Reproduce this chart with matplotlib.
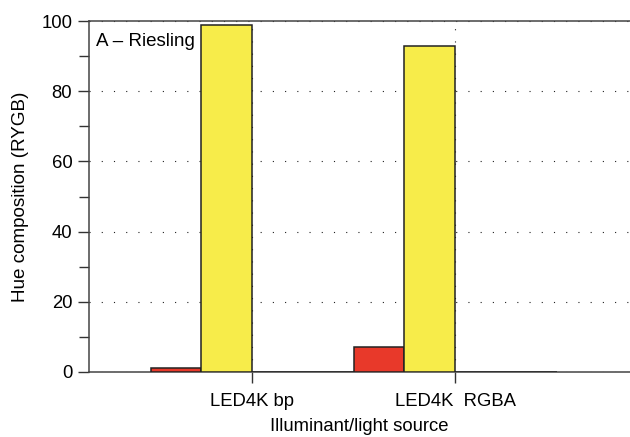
import matplotlib
matplotlib.use("Agg")
import matplotlib.pyplot as plt
import numpy as np

plt.rcParams['font.family'] = ['Liberation Sans', 'DejaVu Sans']

sources = ["LED4K bp", "LED4K  RGBA"]
hues = ["R", "Y", "G", "B"]
red = [1, 7]
yellow = [99, 93]
green = [0, 0]
blue = [0, 0]
hue_colors = ["#E8392A", "#F7EC4A", "#4CAF50", "#3A5FCD"]

fig = plt.figure(figsize=(6.3, 4.37), dpi=100)
ax = fig.add_axes([89 / 630, 1 - 372 / 437, 1 - 89 / 630, (372 - 21) / 437])

x = np.arange(len(sources))
width = 0.25
offsets = [-1.5, -0.5, 0.5, 1.5]
for vals, col, off in zip([red, yellow, green, blue], hue_colors, offsets):
    ax.bar(x + off * width, vals, width=width, color=col,
           edgecolor="#222222", linewidth=1.1, zorder=3)

ax.set_xlim(-0.803, 1.862)
ax.set_ylim(0, 100)
ax.set_yticks([0, 20, 40, 60, 80, 100])
ax.set_yticks([10, 30, 50, 70, 90], minor=True)
ax.set_xticks(x)
ax.set_xticklabels(sources)

ax.grid(True, which="major", color="#222222", linestyle=(0, (1, 10)),
        linewidth=0.8, zorder=0)

for side in ["left", "bottom", "top"]:
    ax.spines[side].set_color("#444444")
    ax.spines[side].set_linewidth(1.1)
ax.spines["right"].set_visible(False)

ax.tick_params(axis="both", which="major", direction="out", length=8,
               width=1.0, color="#333333", labelsize=13.3, pad=4)
ax.tick_params(axis="y", which="minor", direction="out", length=7,
               width=1.0, color="#333333")
ax.tick_params(axis="x", pad=7)

ax.set_ylabel("Hue composition (RYGB)", fontsize=13.6, labelpad=9)
ax.set_xlabel("Illuminant/light source", fontsize=13.3, labelpad=6)

ax.text(0.013, 0.965, "A \u2013 Riesling", transform=ax.transAxes,
        fontsize=13.5, ha="left", va="top", zorder=5)

fig.savefig("out.png", dpi=100)
